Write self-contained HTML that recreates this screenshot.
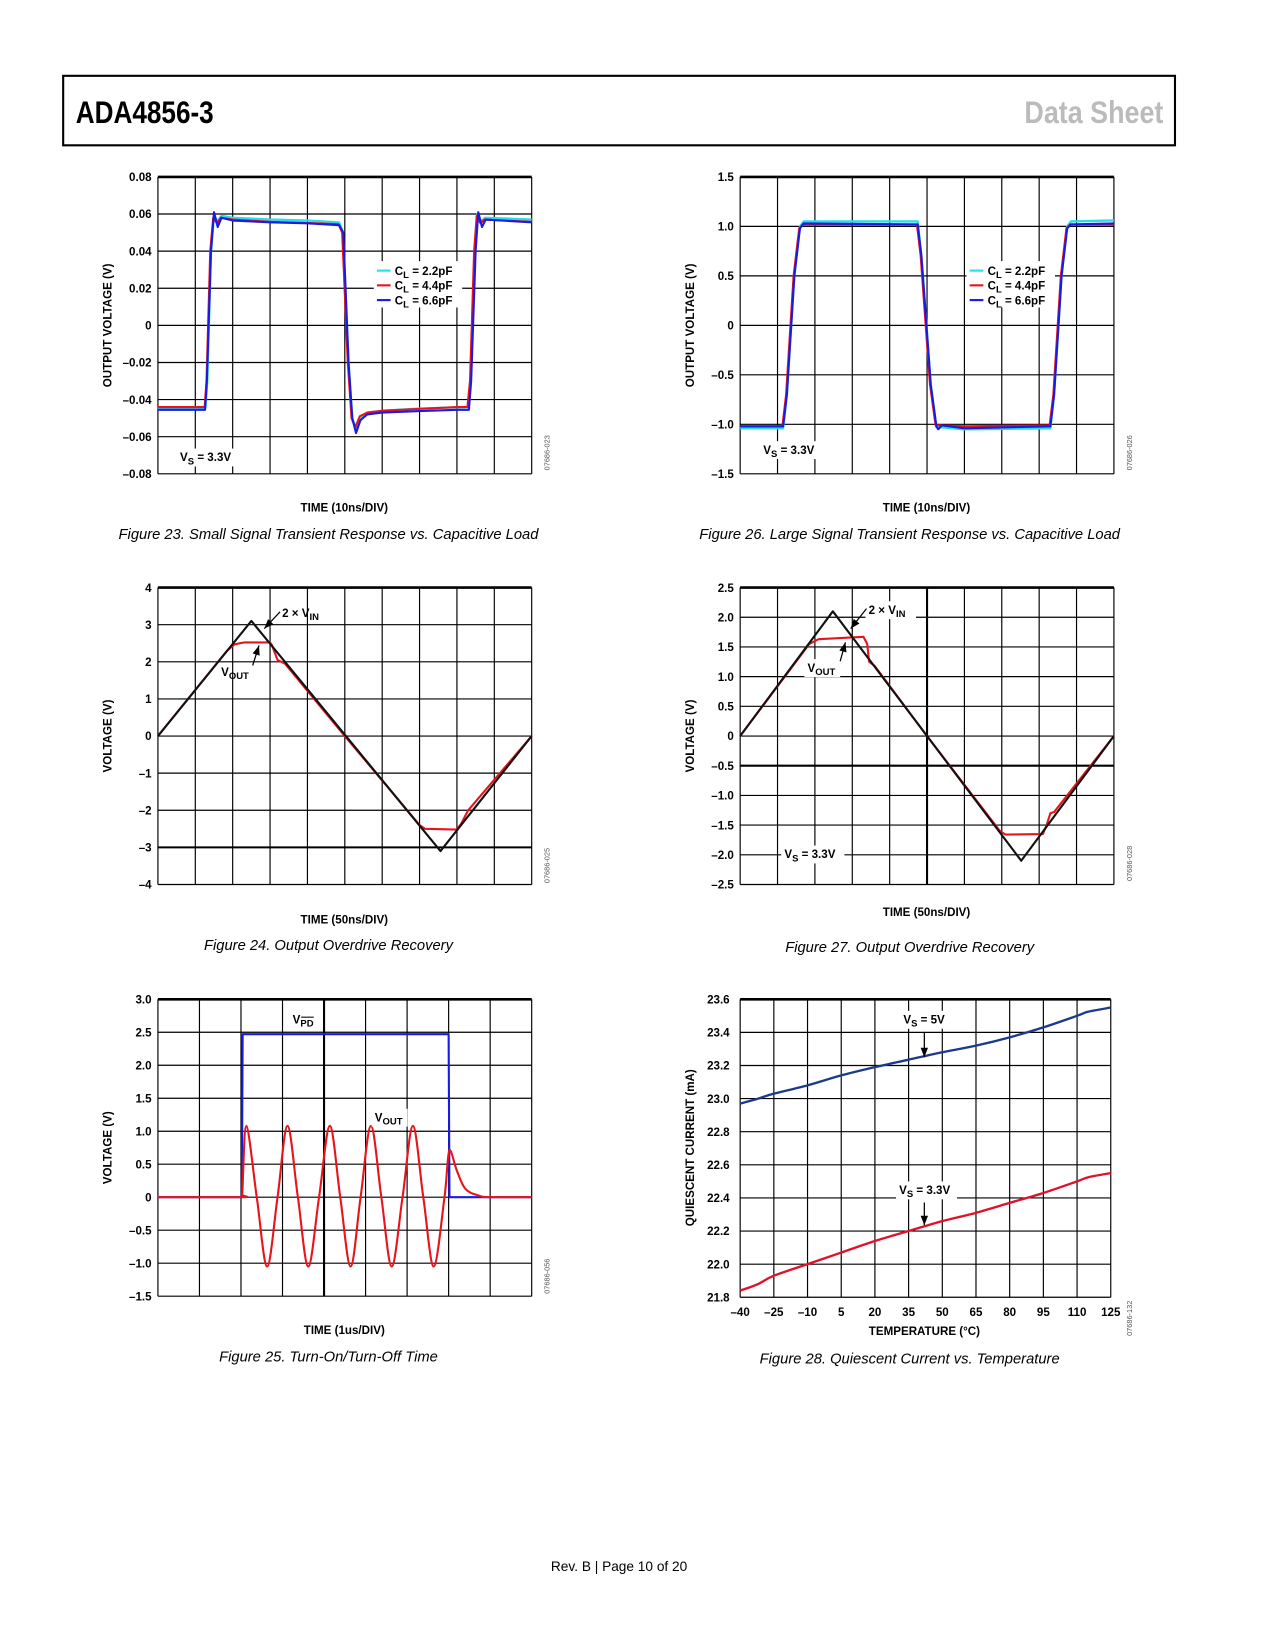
<!DOCTYPE html>
<html><head><meta charset="utf-8"><style>
html,body{margin:0;padding:0;background:#fff;}
svg{display:block;}
text{font-family:"Liberation Sans",sans-serif;}
.tk{font-size:11px;font-weight:bold;}
.tt{font-size:11px;font-weight:bold;}
.cap{font-size:14px;font-style:italic;}
.code{font-size:7px;fill:#555;}
</style></head><body>
<svg id="page" width="1275" height="1650" viewBox="0 0 1211 1567" preserveAspectRatio="none" xmlns="http://www.w3.org/2000/svg">
<rect x="60" y="72" width="1056" height="66" fill="none" stroke="#000" stroke-width="2"/>
<text x="72" y="117" font-size="30" font-weight="bold" textLength="131" lengthAdjust="spacingAndGlyphs">ADA4856-3</text>
<text x="973" y="117" font-size="30" font-weight="bold" fill="#bbb" textLength="132" lengthAdjust="spacingAndGlyphs">Data Sheet</text>

<g id="c1"></g>
<g id="c2"></g>
<g id="c3"></g>
<g id="c4"></g>
<g id="c5"></g>
<g id="c6"></g>

<text class="tt" transform="translate(106,309) rotate(-90)" text-anchor="middle">OUTPUT VOLTAGE (V)</text>
<text class="tt" x="327" y="486" text-anchor="middle">TIME (10ns/DIV)</text>
<text class="cap" x="312" y="512" text-anchor="middle">Figure 23. Small Signal Transient Response vs. Capacitive Load</text>
<text class="code" transform="translate(522,430) rotate(-90)" text-anchor="middle">07686-023</text>

<text class="tt" transform="translate(659,309) rotate(-90)" text-anchor="middle">OUTPUT VOLTAGE (V)</text>
<text class="tt" x="880" y="486" text-anchor="middle">TIME (10ns/DIV)</text>
<text class="cap" x="864" y="512" text-anchor="middle">Figure 26. Large Signal Transient Response vs. Capacitive Load</text>
<text class="code" transform="translate(1075,430) rotate(-90)" text-anchor="middle">07686-026</text>

<text class="tt" transform="translate(106,699) rotate(-90)" text-anchor="middle">VOLTAGE (V)</text>
<text class="tt" x="327" y="877" text-anchor="middle">TIME (50ns/DIV)</text>
<text class="cap" x="312" y="902" text-anchor="middle">Figure 24. Output Overdrive Recovery</text>
<text class="code" transform="translate(522,822) rotate(-90)" text-anchor="middle">07686-025</text>

<text class="tt" transform="translate(659,699) rotate(-90)" text-anchor="middle">VOLTAGE (V)</text>
<text class="tt" x="880" y="870" text-anchor="middle">TIME (50ns/DIV)</text>
<text class="cap" x="864" y="904" text-anchor="middle">Figure 27. Output Overdrive Recovery</text>
<text class="code" transform="translate(1075,820) rotate(-90)" text-anchor="middle">07686-028</text>

<text class="tt" transform="translate(106,1090) rotate(-90)" text-anchor="middle">VOLTAGE (V)</text>
<text class="tt" x="327" y="1267" text-anchor="middle">TIME (1us/DIV)</text>
<text class="cap" x="312" y="1293" text-anchor="middle">Figure 25. Turn-On/Turn-Off Time</text>
<text class="code" transform="translate(522,1212) rotate(-90)" text-anchor="middle">07686-056</text>

<text class="tt" transform="translate(659,1090) rotate(-90)" text-anchor="middle">QUIESCENT CURRENT (mA)</text>
<text class="tt" x="878" y="1268" text-anchor="middle">TEMPERATURE (°C)</text>
<text class="cap" x="864" y="1295" text-anchor="middle">Figure 28. Quiescent Current vs. Temperature</text>
<text class="code" transform="translate(1075,1252) rotate(-90)" text-anchor="middle">07686-132</text>

<text x="588" y="1492" font-size="13" text-anchor="middle">Rev. B | Page 10 of 20</text>
</svg>
<script>
const f23Cyan = [[0,-0.0445],[1.27,-0.0445],[1.32,-0.03],[1.42,0.04],[1.5,0.059],[1.6,0.056],[1.7,0.059],[2,0.058],[3,0.057],[4,0.0565],[4.85,0.0555],[4.95,0.05],[5.1,-0.02],[5.2,-0.05],[5.3,-0.056],[5.45,-0.05],[5.6,-0.047],[6,-0.046],[7,-0.0448],[8,-0.0442],[8.3,-0.044],[8.37,-0.03],[8.48,0.04],[8.55,0.06],[8.65,0.056],[8.75,0.058],[10,0.057]];
const f23Red = [[0,-0.044],[1.25,-0.044],[1.3,-0.03],[1.4,0.04],[1.48,0.058],[1.58,0.055],[1.68,0.058],[2,0.057],[3,0.0558],[4,0.0552],[4.83,0.0545],[4.93,0.05],[5.08,-0.02],[5.18,-0.05],[5.28,-0.055],[5.4,-0.049],[5.6,-0.047],[6,-0.046],[7,-0.045],[8,-0.044],[8.28,-0.044],[8.35,-0.03],[8.46,0.04],[8.53,0.059],[8.63,0.055],[8.73,0.057],[10,0.0558]];
const f23Blue = [[0,-0.0455],[1.26,-0.0455],[1.31,-0.03],[1.42,0.04],[1.5,0.061],[1.6,0.053],[1.7,0.058],[2,0.0565],[3,0.0555],[4,0.055],[4.85,0.054],[4.96,0.05],[5.1,-0.02],[5.2,-0.05],[5.3,-0.058],[5.42,-0.051],[5.6,-0.048],[6,-0.047],[7,-0.0462],[8,-0.0455],[8.32,-0.0455],[8.38,-0.03],[8.5,0.04],[8.57,0.061],[8.67,0.053],[8.77,0.057],[10,0.0555]];
const f23YTicks = [0.08,0.06,0.04,0.02,0,-0.02,-0.04,-0.06,-0.08];
const f23YLabels = ["0.08","0.06","0.04","0.02","0","–0.02","–0.04","–0.06","–0.08"];
const f26Cyan = [[0,-1.04],[1.15,-1.04],[1.25,-0.7],[1.45,0.5],[1.6,1.0],[1.7,1.05],[4.75,1.05],[4.85,0.7],[5.1,-0.6],[5.25,-1.03],[5.4,-1.03],[6,-1.05],[8.3,-1.04],[8.4,-0.7],[8.6,0.5],[8.75,1.0],[8.85,1.05],[10,1.06]];
const f26Red = [[0,-1.02],[1.13,-1.02],[1.23,-0.7],[1.43,0.5],[1.58,0.98],[1.68,1.02],[4.73,1.02],[4.83,0.7],[5.08,-0.6],[5.23,-1.01],[5.4,-1.01],[6,-1.02],[8.28,-1.01],[8.38,-0.7],[8.58,0.5],[8.73,0.98],[8.83,1.02],[10,1.02]];
const f26Blue = [[0,-1.02],[1.15,-1.02],[1.25,-0.7],[1.45,0.5],[1.6,0.98],[1.7,1.03],[4.75,1.02],[4.85,0.7],[5.1,-0.6],[5.25,-1.02],[5.3,-1.05],[5.4,-1.01],[5.6,-1.02],[6,-1.04],[8.3,-1.02],[8.4,-0.7],[8.6,0.5],[8.75,0.98],[8.85,1.02],[10,1.03]];
const f26YTicks = [1.5,1.0,0.5,0,-0.5,-1.0,-1.5];
const f26YLabels = ["1.5","1.0","0.5","0","–0.5","–1.0","–1.5"];
const f24Vin = [[0,0],[2.5,3.1],[7.56,-3.1],[10,0]];
const f24Vout = [[0,0],[1.85,2.3],[2.05,2.47],[2.3,2.52],[3.0,2.52],[3.05,2.45],[3.2,2.05],[3.4,1.95],[5,0],[7.0,-2.4],[7.15,-2.5],[8.0,-2.52],[8.12,-2.35],[8.3,-2.0],[10,0]];
const f24YTicks = [4,3,2,1,0,-1,-2,-3,-4];
const f24YLabels = ["4","3","2","1","0","–1","–2","–3","–4"];
const f27Vin = [[0,0],[2.48,2.1],[7.52,-2.1],[10,0]];
const f27Vout = [[0,0],[1.85,1.55],[2.1,1.63],[3.3,1.67],[3.4,1.55],[3.45,1.25],[3.6,1.18],[5,0],[6.95,-1.6],[7.1,-1.66],[8.1,-1.65],[8.2,-1.5],[8.3,-1.3],[8.4,-1.28],[10,0]];
const f27YTicks = [2.5,2.0,1.5,1.0,0.5,0,-0.5,-1.0,-1.5,-2.0,-2.5];
const f27YLabels = ["2.5","2.0","1.5","1.0","0.5","0","–0.5","–1.0","–1.5","–2.0","–2.5"];
const f25Vpd = [[0,0],[2.02,0],[2.04,2.47],[7.0,2.47],[7.02,0],[9,0]];
const f25Vout = [[0,0],[2.0,0],[2.03,0.05],[2.13,1.08],[2.38,0],[2.63,-1.05],[2.88,0],[3.12,1.08],[3.37,0],[3.62,-1.05],[3.88,0],[4.14,1.08],[4.39,0],[4.64,-1.05],[4.88,0],[5.13,1.08],[5.38,0],[5.63,-1.05],[5.89,0],[6.14,1.08],[6.39,0],[6.64,-1.05],[6.9,0],[7.02,0.72],[7.2,0.4],[7.4,0.13],[7.7,0.03],[8,0],[9,0]];
const f25YTicks = [3.0,2.5,2.0,1.5,1.0,0.5,0,-0.5,-1.0,-1.5];
const f25YLabels = ["3.0","2.5","2.0","1.5","1.0","0.5","0","–0.5","–1.0","–1.5"];
const f28Temps = [-40,-32,-25,-10,5,20,35,50,65,80,95,110,115,125];
const f28Vs5 = [22.97,23.0,23.03,23.08,23.14,23.19,23.235,23.28,23.32,23.37,23.43,23.5,23.525,23.55];
const f28Vs33 = [21.84,21.88,21.93,22.0,22.07,22.14,22.2,22.26,22.31,22.37,22.43,22.5,22.525,22.55];
const f28XTicks = [-40,-25,-10,5,20,35,50,65,80,95,110,125];
const f28XLabels = ["–40","–25","–10","5","20","35","50","65","80","95","110","125"];
const f28YTicks = [23.6,23.4,23.2,23.0,22.8,22.6,22.4,22.2,22.0,21.8];
const f28YLabels = ["23.6","23.4","23.2","23.0","22.8","22.6","22.4","22.2","22.0","21.8"];

const NS = "http://www.w3.org/2000/svg";
function mk(parent, tag, attrs){
  const e = document.createElementNS(NS, tag);
  for (const k in attrs) e.setAttribute(k, attrs[k]);
  parent.appendChild(e);
  return e;
}
function chart(id, box, xd, yd, nx, ny){
  const g = document.getElementById(id);
  const sx = v => box.x + (v - xd[0]) / (xd[1] - xd[0]) * box.w;
  const sy = v => box.y + (yd[1] - v) / (yd[1] - yd[0]) * box.h;
  for (let i = 0; i <= nx; i++){
    const x = box.x + i * box.w / nx;
    const el = mk(g, 'line', {x1:x, x2:x, y1:box.y, y2:box.y+box.h, stroke:'#000', 'stroke-width':1.1});
    
    
  }
  for (let j = 0; j <= ny; j++){
    const y = box.y + j * box.h / ny;
    const el = mk(g, 'line', {x1:box.x, x2:box.x+box.w, y1:y, y2:y, stroke:'#000', 'stroke-width': j===0 ? 2.5 : 1.1});
    
    
  }
  return {g, sx, sy, box};
}
function yticks(c, vals, labels, xr){
  vals.forEach((v, i) => {
    const t = mk(c.g, 'text', {x:xr, y:c.sy(v)+4, 'text-anchor':'end', class:'tk'});
    t.textContent = labels[i];
    
    
  });
}
function thick(c, x1, y1, x2, y2){
  const el = mk(c.g, 'line', {x1, y1, x2, y2, stroke:'#000', 'stroke-width':2});
  
  
}
function series(c, pts, color, name, w, smooth){
  let d;
  const P = pts.map(p => [c.sx(p[0]), c.sy(p[1])]);
  if (!smooth){
    d = 'M' + P.map(p => p[0].toFixed(2) + ',' + p[1].toFixed(2)).join(' L');
  } else {
    d = 'M' + P[0][0] + ',' + P[0][1];
    for (let i = 0; i < P.length - 1; i++){
      const p0 = P[Math.max(0,i-1)], p1 = P[i], p2 = P[i+1], p3 = P[Math.min(P.length-1,i+2)];
      const lo = Math.min(p1[1], p2[1]), hi = Math.max(p1[1], p2[1]);
      const cl = v => Math.max(lo, Math.min(hi, v));
      const c1 = [p1[0] + (p2[0]-p0[0])/6, cl(p1[1] + (p2[1]-p0[1])/6)];
      const c2 = [p2[0] - (p3[0]-p1[0])/6, cl(p2[1] - (p3[1]-p1[1])/6)];
      d += ' C' + c1.join(',') + ' ' + c2.join(',') + ' ' + p2.join(',');
    }
  }
  const el = mk(c.g, 'path', {d, fill:'none', stroke:color, 'stroke-width':w||2, 'stroke-linejoin':'round'});
  
  
}
function label(c, x, y, main, sub, rest, bg, bw){
  if (bg){
    const r = mk(c.g, 'rect', {x:x-3, y:y-12, width:bw, height:17, fill:'#fff'});
    
    
  }
  const t = mk(c.g, 'text', {x, y, class:'tk'});
  
  
  t.appendChild(document.createTextNode(main));
  const s = mk(t, 'tspan', {dy:3, 'font-size':9});
  s.textContent = sub;
  const r2 = mk(t, 'tspan', {dy:-3});
  r2.textContent = rest;
  return t;
}
function arrow(c, x1, y1, x2, y2){
  const el = mk(c.g, 'line', {x1, y1, x2, y2, stroke:'#000', 'stroke-width':1.2});
  
  
  const a = Math.atan2(y2-y1, x2-x1), L = 9, W = 3.5;
  const bx = x2 - L*Math.cos(a), by = y2 - L*Math.sin(a);
  const pts = [x2+','+y2, (bx - W*Math.sin(a))+','+(by + W*Math.cos(a)), (bx + W*Math.sin(a))+','+(by - W*Math.cos(a))].join(' ');
  const h = mk(c.g, 'polygon', {points:pts, fill:'#000'});
  
  
}
function legend(c, x, y, items){
  const r = mk(c.g, 'rect', {x:x-3, y:y-9, width:84, height:44, fill:'#fff'});
  
  
  items.forEach((it, i) => {
    const yy = y + i*14;
    const l = mk(c.g, 'line', {x1:x, x2:x+13, y1:yy, y2:yy, stroke:it[0], 'stroke-width':2});
    
    
    const t = label(c, x+17, yy+4, 'C', 'L', ' = ' + it[1], false);
    
  });
}

let c = chart('c1', {x:150,y:168,w:355,h:282}, [0,10], [-0.08,0.08], 10, 8);
yticks(c, f23YTicks, f23YLabels, 144);
legend(c, 358, 257, [['#22e0e8','2.2pF'],['#e8141b','4.4pF'],['#1a1ae6','6.6pF']]);
label(c, 171, 438, 'V', 'S', ' = 3.3V', true, 62);
series(c, f23Cyan, '#22e0e8', 'series-cl-2p2pf', 2.2);
series(c, f23Red, '#e8141b', 'series-cl-4p4pf', 2);
series(c, f23Blue, '#1a1ae6', 'series-cl-6p6pf', 2);

c = chart('c2', {x:703,y:168,w:355,h:282}, [0,10], [-1.5,1.5], 10, 6);
yticks(c, f26YTicks, f26YLabels, 697);
legend(c, 921, 257, [['#22e0e8','2.2pF'],['#e8141b','4.4pF'],['#1a1ae6','6.6pF']]);
label(c, 725, 431, 'V', 'S', ' = 3.3V', true, 62);
series(c, f26Cyan, '#22e0e8', 'series-cl-2p2pf', 2.2);
series(c, f26Red, '#e8141b', 'series-cl-4p4pf', 2);
series(c, f26Blue, '#1a1ae6', 'series-cl-6p6pf', 2);

c = chart('c3', {x:150,y:558,w:355,h:282}, [0,10], [-4,4], 10, 8);
yticks(c, f24YTicks, f24YLabels, 144);
thick(c, 150, c.sy(-3), 505, c.sy(-3));
series(c, f24Vout, '#e8141b', 'series-vout', 2);
series(c, f24Vin, '#111', 'series-2x-vin', 2);
label(c, 268, 586, '2 × V', 'IN', '', false);
arrow(c, 266, 581, 251, 597);
label(c, 210, 642, 'V', 'OUT', '', false);
arrow(c, 240, 632, 246, 613);

c = chart('c4', {x:703,y:558,w:355,h:282}, [0,10], [-2.5,2.5], 10, 10);
yticks(c, f27YTicks, f27YLabels, 697);
thick(c, 703, c.sy(-0.5), 1058, c.sy(-0.5));
thick(c, c.sx(5), 558, c.sx(5), 840);
label(c, 745, 815, 'V', 'S', ' = 3.3V', true, 60);
label(c, 825, 583, '2 × V', 'IN', '', true, 48);
label(c, 767, 638, 'V', 'OUT', '', true, 34);
series(c, f27Vout, '#e8141b', 'series-vout', 2);
series(c, f27Vin, '#111', 'series-2x-vin', 2);
arrow(c, 823, 578, 808, 597);
arrow(c, 798, 628, 803, 610);

c = chart('c5', {x:150,y:949,w:355,h:282}, [0,9], [-1.5,3.0], 9, 9);
yticks(c, f25YTicks, f25YLabels, 144);
thick(c, c.sx(4), 949, c.sx(4), 1231);
series(c, f25Vpd, '#1a1ae6', 'series-vpd', 2);
series(c, f25Vout, '#e8141b', 'series-vout', 2, true);
label(c, 278, 972, 'V', 'PD', '', true, 24);
const ol = mk(c.g, 'line', {x1:286, x2:298, y1:966, y2:966, stroke:'#000', 'stroke-width':1});


label(c, 356, 1065, 'V', 'OUT', '', true, 34);

c = chart('c6', {x:703,y:949,w:352,h:283}, [-40,125], [21.8,23.6], 11, 9);
yticks(c, f28YTicks, f28YLabels, 693);
f28XTicks.forEach((v, i) => {
  const tx = mk(c.g, 'text', {x:c.sx(v), y:1250, 'text-anchor':'middle', class:'tk'});
  tx.textContent = f28XLabels[i];
  
  
});
series(c, f28Temps.map((v,i)=>[v, f28Vs5[i]]), '#1b3a8c', 'series-vs-5v', 2.2, true);
series(c, f28Temps.map((v,i)=>[v, f28Vs33[i]]), '#e0112b', 'series-vs-3p3v', 2.2, true);
label(c, 858, 972, 'V', 'S', ' = 5V', true, 48);
arrow(c, c.sx(42), 980, c.sx(42), c.sy(23.25));
label(c, 854, 1134, 'V', 'S', ' = 3.3V', true, 58);
arrow(c, c.sx(42), 1142, c.sx(42), c.sy(22.235));
</script>
</body></html>
